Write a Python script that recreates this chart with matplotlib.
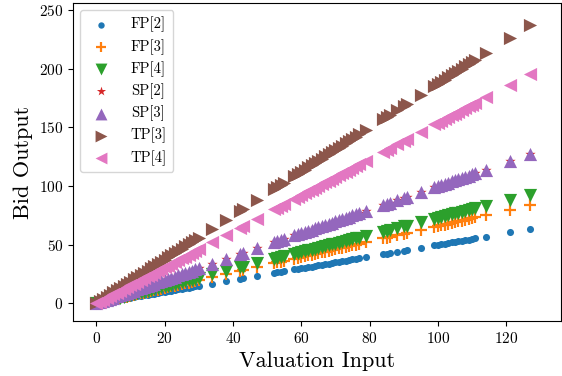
import matplotlib
matplotlib.use("Agg")
import matplotlib.pyplot as plt

plt.rcParams['font.family'] = ['cmr10', 'DejaVu Serif']
plt.rcParams['mathtext.fontset'] = 'cm'
plt.rcParams['axes.formatter.use_mathtext'] = True

valuation = [0, 1, 2, 3, 4, 5, 6, 7, 8, 9, 10, 11, 12, 13, 14, 15, 16, 17, 18, 19, 20,
             21, 22, 23, 24, 25, 26, 27, 28, 29, 30, 34, 38, 42, 43, 47, 52, 53, 54, 55,
             58, 59, 60, 61, 62, 63, 64, 65, 66, 67, 68, 69, 70, 71, 72, 73, 74, 75, 76, 77,
             79, 84, 85, 86, 88, 90, 91, 95, 99, 100, 101, 102, 103, 104, 105, 106, 107, 108,
             109, 110, 111, 114, 121, 127]

fp2 = [0, 0.5, 1, 1.5, 2, 2.5, 3, 3.5, 4, 4.5, 5, 5.5, 6, 6.5, 7, 7.5, 8, 8.5, 9, 9.5, 10,
       10.5, 11, 11.5, 12, 12.5, 13, 13.5, 14, 14.5, 15, 17, 19, 21, 21.5, 23.5, 26, 26.5, 27, 27.5,
       29, 29.5, 30, 30.5, 31, 31.5, 32, 32.5, 33, 33.5, 34, 34.5, 35, 35.5, 36, 36.5, 37, 37.5, 38, 38.5,
       39.5, 42, 42.5, 43, 44, 45, 45.5, 47.5, 49.5, 50, 50.5, 51, 51.5, 52, 52.5, 53, 53.5, 54,
       54.5, 55, 55.5, 57, 60.5, 63.5]

fp3 = [0, 0.7, 1.3, 2, 2.6, 3.3, 4, 4.6, 5.3, 5.9, 6.6, 7.3, 7.9, 8.6, 9.2, 9.9, 10.6, 11.2, 11.9, 12.5, 13.2,
       13.9, 14.5, 15.2, 15.8, 16.5, 17.2, 17.8, 18.5, 19.1, 19.8, 22.4, 25.1, 27.7, 28.4, 31, 34.3, 35, 35.6, 36.3,
       38.3, 38.9, 39.6, 40.3, 40.9, 41.6, 42.2, 42.9, 43.6, 44.2, 44.9, 45.5, 46.2, 46.9, 47.5, 48.2, 48.8, 49.5, 50.2, 50.8,
       52.1, 55.4, 56.1, 56.8, 58.1, 59.4, 60.1, 62.7, 65.3, 66, 66.7, 67.3, 68, 68.6, 69.3, 70, 70.6, 71.3,
       71.9, 72.6, 73.3, 75.2, 79.9, 83.8]

fp4 = [0, 0.7, 1.5, 2.2, 2.9, 3.7, 4.4, 5.1, 5.8, 6.6, 7.3, 8, 8.8, 9.5, 10.2, 11, 11.7, 12.4, 13.1, 13.9, 14.6,
       15.3, 16.1, 16.8, 17.5, 18.3, 19, 19.7, 20.4, 21.2, 21.9, 24.8, 27.7, 30.7, 31.4, 34.3, 38, 38.7, 39.4, 40.2,
       42.3, 43.1, 43.8, 44.5, 45.3, 46, 46.7, 47.5, 48.2, 48.9, 49.6, 50.4, 51.1, 51.8, 52.6, 53.3, 54, 54.8, 55.5, 56.2,
       57.7, 61.3, 62.1, 62.8, 64.2, 65.7, 66.4, 69.4, 72.3, 73, 73.7, 74.5, 75.2, 75.9, 76.7, 77.4, 78.1, 78.8,
       79.6, 80.3, 81, 83.2, 88.3, 92.7]

sp2 = [0, 1, 2, 3, 4, 5, 6, 7, 8, 9, 10, 11, 12, 13, 14, 15, 16, 17, 18, 19, 20,
       21, 22, 23, 24, 25, 26, 27, 28, 29, 30, 34, 38, 42, 43, 47, 52, 53, 54, 55,
       58, 59, 60, 61, 62, 63, 64, 65, 66, 67, 68, 69, 70, 71, 72, 73, 74, 75, 76, 77,
       79, 84, 85, 86, 88, 90, 91, 95, 99, 100, 101, 102, 103, 104, 105, 106, 107, 108,
       109, 110, 111, 114, 121, 127]

sp3 = [0, 1, 2, 3, 4, 5, 6, 7, 8, 9, 10, 11, 12, 13, 14, 15, 16, 17, 18, 19, 20,
       21, 22, 23, 24, 25, 26, 27, 28, 29, 30, 34, 38, 42, 43, 47, 52, 53, 54, 55,
       58, 59, 60, 61, 62, 63, 64, 65, 66, 67, 68, 69, 70, 71, 72, 73, 74, 75, 76, 77,
       79, 84, 85, 86, 88, 90, 91, 95, 99, 100, 101, 102, 103, 104, 105, 106, 107, 108,
       109, 110, 111, 114, 121, 127]

tp3 = [0, 1.9, 3.7, 5.6, 7.5, 9.4, 11.2, 13.1, 15, 16.8, 18.7, 20.6, 22.4, 24.3, 26.2, 28.1, 29.9, 31.8, 33.7, 35.5, 37.4,
       39.3, 41.1, 43, 44.9, 46.8, 48.6, 50.5, 52.4, 54.2, 56.1, 63.6, 71.1, 78.5, 80.4, 87.9, 97.2, 99.1, 101, 102.9,
       108.5, 110.3, 112.2, 114.1, 115.9, 117.8, 119.7, 121.6, 123.4, 125.3, 127.2, 129, 130.9, 132.8, 134.6, 136.5, 138.4, 140.3, 142.1, 144,
       147.7, 157.1, 159, 160.8, 164.6, 168.3, 170.2, 177.7, 185.1, 187, 188.9, 190.7, 192.6, 194.5, 196.4, 198.2, 200.1, 202,
       203.8, 205.7, 207.6, 213.2, 226.3, 237.5]

tp4 = [0, 1.5, 3.1, 4.6, 6.2, 7.7, 9.2, 10.8, 12.3, 13.9, 15.4, 16.9, 18.5, 20, 21.6, 23.1, 24.6, 26.2, 27.7, 29.3, 30.8,
       32.3, 33.9, 35.4, 37, 38.5, 40, 41.6, 43.1, 44.7, 46.2, 52.4, 58.5, 64.7, 66.2, 72.4, 80.1, 81.6, 83.2, 84.7,
       89.3, 90.9, 92.4, 93.9, 95.5, 97, 98.6, 100.1, 101.6, 103.2, 104.7, 106.3, 107.8, 109.3, 110.9, 112.4, 114, 115.5, 117, 118.6,
       121.7, 129.4, 130.9, 132.4, 135.5, 138.6, 140.1, 146.3, 152.5, 154, 155.5, 157.1, 158.6, 160.2, 161.7, 163.2, 164.8, 166.3,
       167.9, 169.4, 170.9, 175.6, 186.3, 195.6]

labels = ['FP[2]', 'FP[3]', 'FP[4]', 'SP[2]', 'SP[3]', 'TP[3]', 'TP[4]']
series = [fp2, fp3, fp4, sp2, sp3, tp3, tp4]
markers = ['o', '+', 'v', '*', '^', '>', '<']
sizes = [26, 70, 90, 60, 90, 90, 90]
colors = ['#1f77b4', '#ff7f0e', '#2ca02c', '#d62728', '#9467bd', '#8c564b', '#e377c2']

fig = plt.figure(figsize=(5.62, 3.76), dpi=100)
ax = fig.add_axes([0.130, 0.146, 0.868, 0.846])

for ys, lab, m, s, c in zip(series, labels, markers, sizes, colors):
    ax.scatter(valuation, ys, marker=m, s=s, color=c, label=lab, linewidths=1.6 if m == '+' else 0)

ax.set_xlabel('Valuation Input', fontsize=16)
ax.set_ylabel('Bid Output', fontsize=16)
ax.tick_params(labelsize=11)
ax.set_xticks([0, 20, 40, 60, 80, 100, 120])
ax.set_yticks([0, 50, 100, 150, 200, 250])
ax.set_xlim(-6.8, 136)
ax.set_ylim(-15, 256)
ax.legend(loc='upper left', fontsize=10.5, borderpad=0.45, handletextpad=1.0,
          labelspacing=0.45, markerscale=0.9)

fig.savefig('out.png', dpi=100)
